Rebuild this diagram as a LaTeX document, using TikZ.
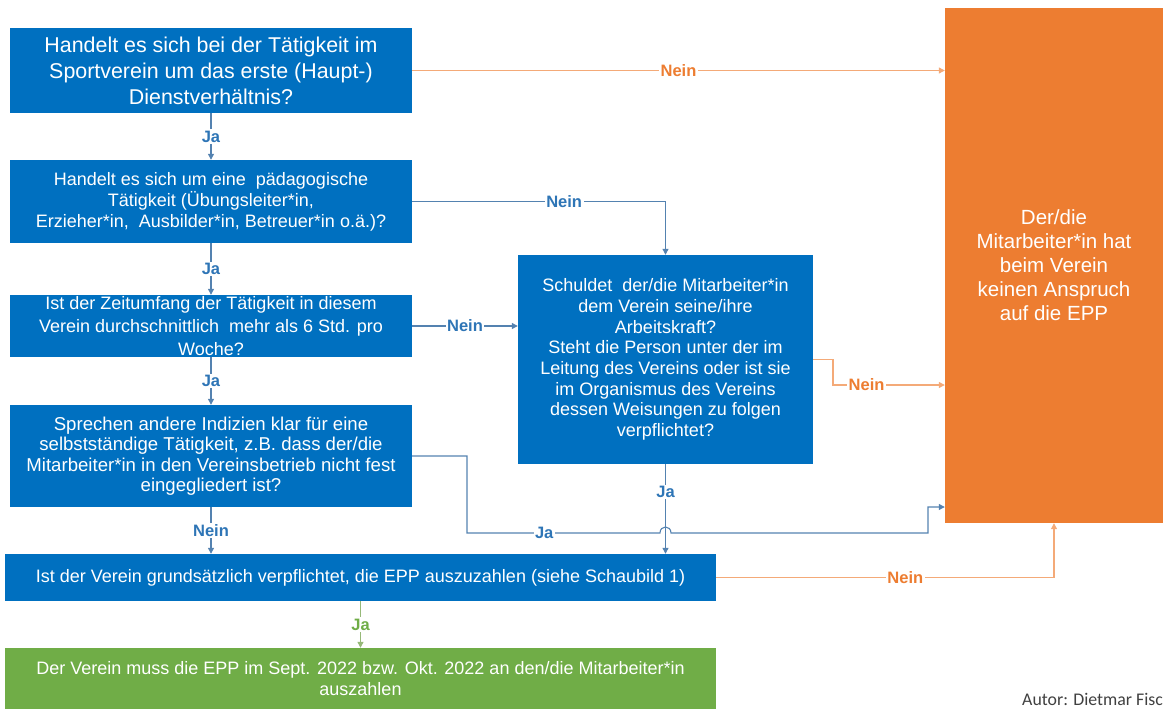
\documentclass[tikz,border=0pt]{standalone}
\usepackage{fontspec}
\setmainfont{Liberation Sans}
\newfontfamily\autorfont{Carlito}
\usepackage{tikz}
\usetikzlibrary{arrows.meta}
\definecolor{kastenblau}{RGB}{0,112,192}
\definecolor{kastenorange}{RGB}{237,125,49}
\definecolor{kastengruen}{RGB}{112,173,71}
\definecolor{linieblau}{RGB}{84,130,176}
\definecolor{schriftblau}{RGB}{46,117,182}
\definecolor{linieorange}{RGB}{244,170,120}
\definecolor{linieegruen}{RGB}{150,185,120}

\begin{document}
\begin{tikzpicture}[x=1pt,y=-1pt,
		kasten/.style={text=white, inner sep=0pt, align=center, font=\fontsize{18}{21}\selectfont},
		frage/.style={kasten, fill=kastenblau},
		blauweg/.style={draw=linieblau, line width=1.1pt, -{Triangle[length=6pt,width=6pt]}},
		orangeweg/.style={draw=linieorange, line width=1.1pt, -{Triangle[length=6pt,width=6pt]}},
		gruenweg/.style={draw=linieegruen, line width=1.1pt, -{Triangle[length=6pt,width=6pt]}},
		marke/.style={fill=white, inner sep=1.5pt, font=\bfseries\fontsize{16.5}{18}\selectfont},
		jablau/.style={marke, text=schriftblau},
		neinblau/.style={marke, text=schriftblau},
		neinorange/.style={marke, text=kastenorange},
		jagruen/.style={marke, text=kastengruen}]
		\useasboundingbox (0,0) rectangle (1163,709);
		
		% Fragen links
		\node (q1) at (211,70.5) [frage, minimum width=402pt, minimum height=85pt, font=\fontsize{21.4}{26}\selectfont] {Handelt es sich bei der Tätigkeit im\\Sportverein um das erste (Haupt-)\\Dienstverhältnis?};
		\node (q2) at (211,201.5) [frage, minimum width=402pt, minimum height=83pt] {Handelt es sich um eine \ pädagogische\\Tätigkeit (Übungsleiter*in,\\Erzieher*in, \ Ausbilder*in, Betreuer*in o.ä.)?};
		\node (q3) at (211,326) [frage, minimum width=402pt, minimum height=62pt, font=\fontsize{18}{23}\selectfont] {Ist der Zeitumfang der Tätigkeit in diesem\\Verein durchschnittlich \ mehr als 6 Std. pro\\Woche?};
		\node (q4) at (211,456) [frage, minimum width=402pt, minimum height=102pt, font=\fontsize{18.6}{20.5}\selectfont] {Sprechen andere Indizien klar für eine\\selbstständige Tätigkeit, z.B. dass der/die\\Mitarbeiter*in in den Vereinsbetrieb nicht fest\\eingegliedert ist?};
		\node (q5) at (360.5,577.5) [frage, minimum width=711pt, minimum height=47pt] {Ist der Verein grundsätzlich verpflichtet, die EPP auszuzahlen (siehe Schaubild 1)};
		\node (res) at (360.5,678.5) [kasten, fill=kastengruen, minimum width=711pt, minimum height=61pt] {Der Verein muss die EPP im Sept. 2022 bzw. Okt. 2022 an den/die Mitarbeiter*in\\auszahlen};
		
		% Mitte und rechts
		\node (m) at (665.5,359.5) [frage, minimum width=295pt, minimum height=209pt, font=\fontsize{18}{20.7}\selectfont] {Schuldet \ der/die Mitarbeiter*in\\dem Verein seine/ihre\\Arbeitskraft?\\Steht die Person unter der im\\Leitung des Vereins oder ist sie\\im Organismus des Vereins\\dessen Weisungen zu folgen\\verpflichtet?};
		\node (no) at (1054,265.5) [kasten, fill=kastenorange, minimum width=218pt, minimum height=515pt, font=\fontsize{20.5}{24}\selectfont] {Der/die\\Mitarbeiter*in hat\\beim Verein\\keinen Anspruch\\auf die EPP};
		
		\node (autor) at (1022,705) [anchor=base west, inner sep=0pt, text=black!75, font=\autorfont\fontsize{17.8}{20}\selectfont] {Autor: Dietmar Fisc};
		
		\coordinate (mknick) at (833,385);
		\coordinate (jaknick) at (467,533);
		\coordinate (hopl) at (660,533);
		\coordinate (hopr) at (671,533);
		\coordinate (jahoch) at (928,507);
		
		\draw[blauweg] (q1) -- node[jablau] {Ja} (q2);
		\draw[blauweg] (q2) -- node[jablau] {Ja} (q3);
		\draw[blauweg] (q3) -- node[jablau] {Ja} (q4);
		\draw[blauweg] (q4) -- node[neinblau] {Nein} (q4 |- q5.north);
		\draw[gruenweg] (q5) -- node[jagruen] {Ja} (res);
		
		\draw[orangeweg] (q1) -- node[neinorange] {Nein} (q1 -| no.west);
		\draw[blauweg] (q2) -| node[neinblau, pos=0.3] {Nein} (m);
		\draw[blauweg] (q3) -- node[neinblau] {Nein} (q3 -| m.west);
		\draw[orangeweg] (m.east) -| (mknick) -- node[neinorange, pos=0.3] {Nein} (mknick -| no.west);
		\draw[blauweg] (m.south) -- node[jablau, pos=0.31] {Ja} (m.south |- q5.north);
		\draw[blauweg] (q4.east) -| (jaknick) -- node[jablau, pos=0.4] {Ja} (hopl) .. controls +(0,-8) and +(0,-8) .. (hopr) -| (jahoch) -- (jahoch -| no.west);
		\draw[orangeweg] (q5) -| node[neinorange, pos=0.28] {Nein} (no);
	\end{tikzpicture}
\end{document}
